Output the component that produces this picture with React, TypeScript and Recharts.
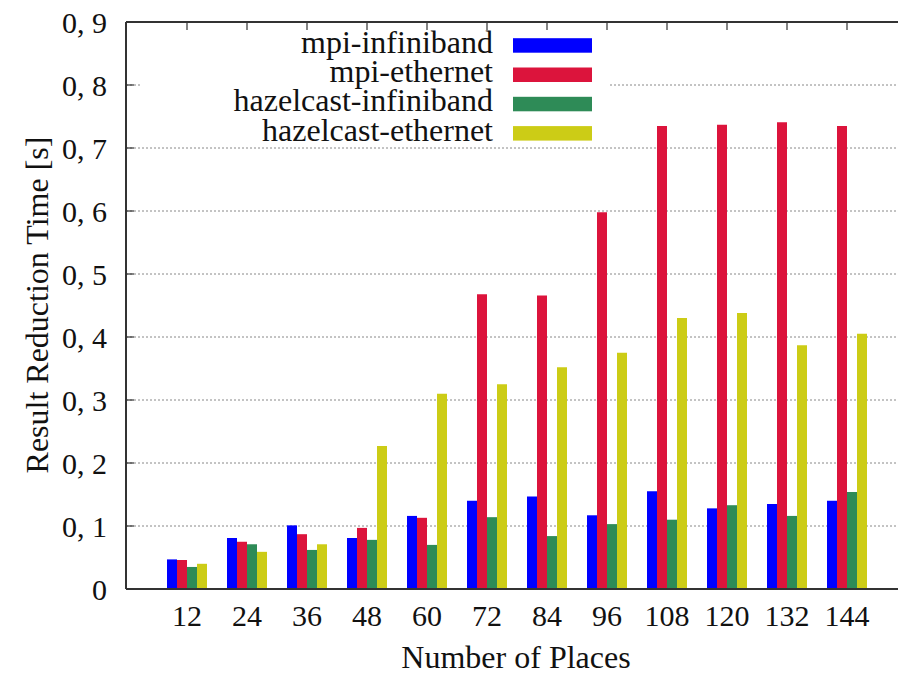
import React from 'react';
import { BarChart, Bar, XAxis, YAxis, CartesianGrid, Legend } from 'recharts';

const places = ['12', '24', '36', '48', '60', '72', '84', '96', '108', '120', '132', '144'];
const mpiInfiniband = [0.047, 0.081, 0.101, 0.081, 0.116, 0.14, 0.147, 0.117, 0.155, 0.128, 0.135, 0.14];
const mpiEthernet = [0.046, 0.075, 0.087, 0.097, 0.113, 0.468, 0.466, 0.598, 0.735, 0.737, 0.741, 0.735];
const hazelcastInfiniband = [0.035, 0.071, 0.062, 0.078, 0.07, 0.114, 0.084, 0.103, 0.11, 0.133, 0.116, 0.154];
const hazelcastEthernet = [0.04, 0.059, 0.071, 0.227, 0.31, 0.325, 0.352, 0.375, 0.43, 0.438, 0.387, 0.405];
const yTicks = [0, 0.1, 0.2, 0.3, 0.4, 0.5, 0.6, 0.7, 0.8, 0.9];

const series = [
  { key: 'mpiInfiniband', name: 'mpi-infiniband', color: '#0000FF', values: mpiInfiniband },
  { key: 'mpiEthernet', name: 'mpi-ethernet', color: '#DC143C', values: mpiEthernet },
  { key: 'hazelcastInfiniband', name: 'hazelcast-infiniband', color: '#2E8B57', values: hazelcastInfiniband },
  { key: 'hazelcastEthernet', name: 'hazelcast-ethernet', color: '#CCCC16', values: hazelcastEthernet },
];

const data = places.map((p, i) => {
  const row: any = { places: p };
  series.forEach((s) => {
    row[s.key] = s.values[i];
  });
  return row;
});

const FONT = '"Liberation Serif", "DejaVu Serif", serif';
const AXIS = '#333333';
const PLOT_HEIGHT = 567;
const PLOT_WIDTH = 784;

const fmtY = (v: number) => (v === 0 ? '0' : v.toFixed(1).replace('.', ', '));

const YTick = (props: any) => {
  const { x, y, payload } = props;
  const isTop = Math.abs(payload.value - yTicks[yTicks.length - 1]) < 1e-6;
  return (
    <g>
      {isTop ? (
        <line x1={x} x2={x + PLOT_WIDTH} y1={y} y2={y} stroke={AXIS} strokeWidth={2} />
      ) : (
        <line x1={x} x2={x + 8} y1={y} y2={y} stroke={AXIS} strokeWidth={1.2} />
      )}
      <text x={x - 19} y={y} dy="0.35em" textAnchor="end" fontFamily={FONT} fontSize={30} fill="#111">
        {fmtY(payload.value)}
      </text>
    </g>
  );
};

const XTick = (props: any) => {
  const { x, y, payload } = props;
  const top = y - PLOT_HEIGHT;
  return (
    <g>
      <line x1={x} x2={x} y1={top} y2={top + 8} stroke={AXIS} strokeWidth={1.2} />
      <text x={x} y={y + 37} textAnchor="middle" fontFamily={FONT} fontSize={30} fill="#111">
        {payload.value}
      </text>
    </g>
  );
};

const LegendContent = () => (
  <svg width={468} height={116} style={{ display: 'block', background: '#fff' }}>
    {series.map((s, i) => {
      const base = 22.7 + i * 29.3;
      return (
        <g key={s.key}>
          <text x={353} y={base} textAnchor="end" fontFamily={FONT} fontSize={32} fill="#111">
            {s.name}
          </text>
          <rect x={373} y={base - 14.5} width={79} height={14.5} fill={s.color} />
        </g>
      );
    })}
  </svg>
);

export default function App() {
  return (
    <div
      style={{
        position: 'absolute',
        left: 0,
        top: 0,
        width: 898,
        height: 675,
        overflow: 'hidden',
        background: '#fff',
      }}
    >
      <BarChart
        width={910}
        height={675}
        data={data}
        margin={{ top: 22, right: 0, bottom: 0, left: 0 }}
        barSize={10}
        barGap={0}
      >
        <CartesianGrid horizontal vertical={false} stroke="#888" strokeDasharray="2 2" strokeWidth={1} />
        {series.map((s) => (
          <Bar key={s.key} dataKey={s.key} name={s.name} fill={s.color} isAnimationActive={false} />
        ))}
        <XAxis
          dataKey="places"
          height={86}
          padding={{ left: 31, right: 33 }}
          tickLine={false}
          tickSize={0}
          tickMargin={0}
          axisLine={{ stroke: AXIS, strokeWidth: 2 }}
          tick={<XTick />}
          interval={0}
          label={(p: any) => {
            const vb = p.viewBox || {};
            return (
              <text
                x={vb.x + vb.width / 2 - 2}
                y={668}
                textAnchor="middle"
                fontFamily={FONT}
                fontSize={32}
                fill="#111"
              >
                Number of Places
              </text>
            );
          }}
        />
        <YAxis
          type="number"
          domain={[0, 0.9]}
          ticks={yTicks}
          width={126}
          tickLine={false}
          tickSize={0}
          tickMargin={0}
          axisLine={{ stroke: AXIS, strokeWidth: 2 }}
          tick={<YTick />}
          interval={0}
          label={() => (
            <text
              x={37}
              y={305}
              transform="rotate(-90 37 305)"
              textAnchor="middle"
              dy="0.35em"
              fontFamily={FONT}
              fontSize={32}
              fill="#111"
            >
              Result Reduction Time [s]
            </text>
          )}
        />
        <Legend
          layout="vertical"
          align="center"
          verticalAlign="middle"
          wrapperStyle={{ left: 140, top: 30, width: 468, height: 116 }}
          content={<LegendContent />}
        />
      </BarChart>
    </div>
  );
}
